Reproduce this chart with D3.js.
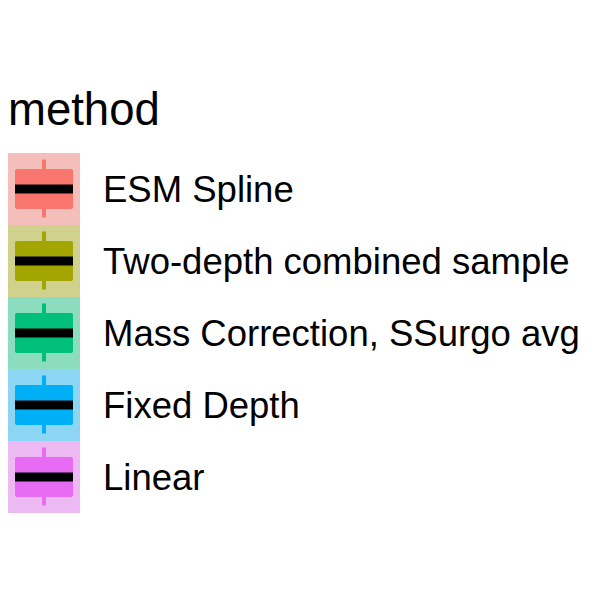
<!DOCTYPE html>
<html><head><meta charset="utf-8">
<script src="https://cdn.jsdelivr.net/npm/d3@7"></script>
<style>html,body{margin:0;padding:0;background:#fff;}</style>
</head><body>
<svg id="chart" width="600" height="600"></svg>
<script>
const legendTitle = "method";
const methods = ["ESM Spline", "Two-depth combined sample", "Mass Correction, SSurgo avg", "Fixed Depth", "Linear"];
const methodColors = ["#F8766D", "#A3A500", "#00BF7D", "#00B0F6", "#E76BF3"];

const svg = d3.select("#chart");
const font = "'Liberation Sans', Arial, Helvetica, sans-serif";
const keySize = 72;
const y = d3.scaleBand().domain(methods).range([153, 153 + keySize * methods.length]).padding(0);
const color = d3.scaleOrdinal().domain(methods).range(methodColors);
const keyX = 8;

svg.append("text").attr("x", 8).attr("y", 125)
  .attr("font-family", font).attr("font-size", 45.5).attr("fill", "#000").text(legendTitle);

const g = svg.selectAll("g.key").data(methods).join("g").attr("class", "key")
  .attr("transform", d => `translate(${keyX},${y(d)})`);

g.append("rect").attr("width", keySize).attr("height", y.bandwidth()).attr("fill", "#F2F2F2");
g.append("rect").attr("width", keySize).attr("height", y.bandwidth())
  .attr("fill", d => color(d)).attr("fill-opacity", 0.42);
// whisker
g.append("rect").attr("x", 34).attr("y", 6.5).attr("width", 4).attr("height", 58)
  .attr("fill", d => color(d));
// box
g.append("rect").attr("x", 7).attr("y", 16).attr("width", 58).attr("height", 40).attr("rx", 2)
  .attr("fill", d => color(d));
// median
g.append("rect").attr("x", 7).attr("y", 31.5).attr("width", 58).attr("height", 9)
  .attr("fill", "#000");

svg.selectAll("text.lab").data(methods).join("text").attr("class", "lab")
  .attr("x", 103).attr("y", d => y(d) + y.bandwidth() / 2 + 12.5)
  .attr("font-family", font).attr("font-size", 36.5).attr("fill", "#000").text(d => d);
</script>
</body></html>
